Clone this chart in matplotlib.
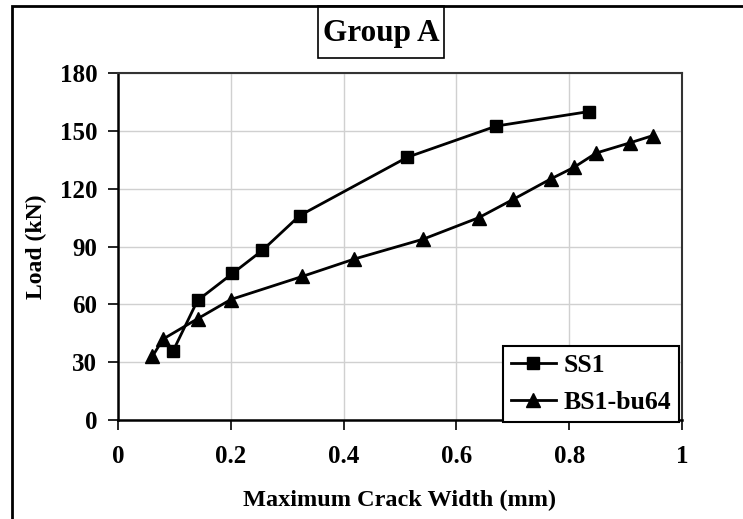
import matplotlib
matplotlib.use("Agg")
import matplotlib.pyplot as plt
from matplotlib.patches import Rectangle

plt.rcParams['font.family'] = ['Liberation Serif', 'DejaVu Serif']
plt.rcParams['font.weight'] = 'bold'

# SS1 (squares)
ss1_width = [0.098, 0.141, 0.203, 0.256, 0.322, 0.513, 0.671, 0.835]
ss1_load = [36.0, 62.0, 76.0, 88.0, 106.0, 136.3, 152.5, 160.0]

# BS1-bu64 (triangles)
bs1_width = [0.061, 0.080, 0.141, 0.200, 0.327, 0.419, 0.541, 0.640,
             0.701, 0.767, 0.808, 0.848, 0.908, 0.948]
bs1_load = [33.0, 42.0, 52.5, 62.5, 74.5, 83.5, 93.8, 105.0,
            114.5, 125.0, 131.0, 138.5, 143.8, 147.5]

xticks = [0, 0.2, 0.4, 0.6, 0.8, 1]
xtick_labels = ['0', '0.2', '0.4', '0.6', '0.8', '1']
yticks = [0, 30, 60, 90, 120, 150, 180]

W, H = 743, 519
fig = plt.figure(figsize=(W / 100, H / 100), dpi=100)
ax = fig.add_axes([118 / W, 1 - 420 / H, (682 - 118) / W, (420 - 73) / H])

ax.plot(ss1_width, ss1_load, color='black', lw=2, marker='s', ms=9,
        label='SS1', zorder=3)
ax.plot(bs1_width, bs1_load, color='black', lw=2, marker='^', ms=10,
        label='BS1-bu64', zorder=3)

ax.set_xlim(0, 1)
ax.set_ylim(0, 180)
ax.set_xticks(xticks)
ax.set_xticklabels(xtick_labels)
ax.set_yticks(yticks)
ax.grid(True, color='#d0d0d0', lw=1)
ax.set_axisbelow(True)
ax.tick_params(direction='out', length=7, width=1.2, labelsize=18)
ax.tick_params(axis='x', pad=11)
ax.tick_params(axis='y', pad=8)
for lab in ax.get_xticklabels() + ax.get_yticklabels():
    lab.set_fontweight('bold')
for side in ['left', 'bottom']:
    ax.spines[side].set_linewidth(1.8)
for side in ['top', 'right']:
    ax.spines[side].set_linewidth(1.5)
    ax.spines[side].set_color('#333333')

ax.set_xlabel('Maximum Crack Width (mm)', fontsize=17.5, fontweight='bold', labelpad=16)
ax.set_ylabel('Load (kN)', fontsize=17, fontweight='bold', labelpad=9)

leg = ax.legend(loc='lower right', bbox_to_anchor=(679 / W, 1 - 422 / H),
                bbox_transform=fig.transFigure, borderaxespad=0,
                fancybox=False, edgecolor='black', framealpha=1,
                prop={'size': 18.5, 'weight': 'bold'}, handlelength=1.75,
                handletextpad=0.3, borderpad=0.3, labelspacing=0.55)
leg.get_frame().set_linewidth(1.5)

# outer chart border
fig.patches.append(Rectangle((12 / W, -0.1), 1.2, 1 - 6 / H + 0.1,
                             transform=fig.transFigure, fill=False,
                             edgecolor='black', lw=2))
# title box
fig.patches.append(Rectangle((318 / W, 1 - 58 / H), (444 - 318) / W, (58 - 6) / H,
                             transform=fig.transFigure, fill=False,
                             edgecolor='black', lw=1.2))
fig.text(381 / W, 1 - 33 / H, 'Group A', ha='center', va='center',
         fontsize=22.5, fontweight='bold')

fig.savefig('out.png', dpi=100)
